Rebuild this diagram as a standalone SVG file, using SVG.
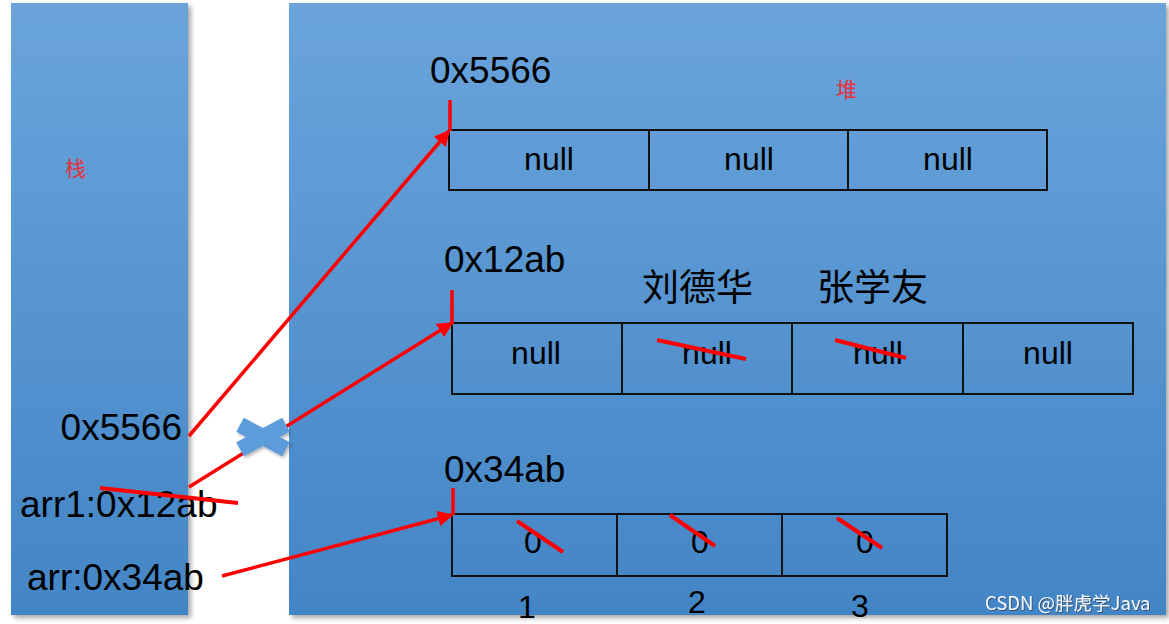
<svg xmlns="http://www.w3.org/2000/svg" width="1169" height="624" viewBox="0 0 1169 624">
  <defs>
    <linearGradient id="panelGrad" x1="0" y1="0" x2="0" y2="1">
      <stop offset="0" stop-color="#6aa4db"/>
      <stop offset="1" stop-color="#4385c6"/>
    </linearGradient>
    <filter id="shadow" x="-10%" y="-5%" width="120%" height="110%">
      <feDropShadow dx="3" dy="3" stdDeviation="2.5" flood-color="#000" flood-opacity="0.35"/>
    </filter>
    <filter id="xshadow" x="-30%" y="-30%" width="160%" height="160%">
      <feDropShadow dx="1.5" dy="2" stdDeviation="1.5" flood-color="#000" flood-opacity="0.3"/>
    </filter>
    <filter id="wm" x="-5%" y="-20%" width="110%" height="140%">
      <feDropShadow dx="1" dy="1" stdDeviation="0.6" flood-color="#333" flood-opacity="0.6"/>
    </filter>
    <marker id="arrow" viewBox="0 0 10 10" refX="9" refY="5" markerWidth="4.5" markerHeight="4.5" orient="auto" markerUnits="strokeWidth">
      <path d="M0,0 L10,5 L0,10 z" fill="#ff0000"/>
    </marker>
  </defs>
  <style>
    .txt { font-family: "Liberation Sans", Arial, sans-serif; fill: #000; }
    .addr { font-size: 37px; }
    .cell { font-size: 32px; text-anchor: middle; }
    .cjk { font-family: "Noto Sans CJK SC", "Liberation Sans", sans-serif; font-size: 37px; font-weight: 400; fill: #000; }
    .tag { font-family: "Noto Sans CJK SC", sans-serif; font-size: 21px; fill: #e8303a; }
    .box { fill: none; stroke: #111; stroke-width: 2; }
    .red { stroke: #ff0000; stroke-width: 3.5; fill: none; stroke-linecap: butt; }
    .strike { stroke: #ff0000; stroke-width: 4; fill: none; }
  </style>
  <rect width="1169" height="624" fill="#ffffff"/>

  <g id="stack">
    <rect x="11" y="3" width="177" height="612" fill="url(#panelGrad)" filter="url(#shadow)"/>
    <text class="tag" x="65" y="176">栈</text>
    <text class="txt addr" x="182" y="440" text-anchor="end">0x5566</text>
    <text class="txt addr" x="20" y="517">arr1:0x12ab</text>
    <line class="strike" x1="100" y1="488" x2="238" y2="503"/>
    <text class="txt addr" x="27" y="590">arr:0x34ab</text>
  </g>

  <g id="heap">
    <rect x="289" y="3" width="877" height="612" fill="url(#panelGrad)" filter="url(#shadow)"/>
    <text class="tag" x="836" y="97">堆</text>
  </g>

  <g id="array-0x5566">
    <text class="txt addr" x="430" y="83">0x5566</text>
    <rect class="box" x="449" y="130" width="598" height="60"/>
    <line class="box" x1="649" y1="130" x2="649" y2="190"/>
    <line class="box" x1="848" y1="130" x2="848" y2="190"/>
    <text class="txt cell" x="549" y="170">null</text>
    <text class="txt cell" x="749" y="170">null</text>
    <text class="txt cell" x="948" y="170">null</text>
  </g>

  <g id="array-0x12ab">
    <text class="txt addr" x="444" y="272">0x12ab</text>
    <text class="cjk" x="642" y="301">刘德华</text>
    <text class="cjk" x="817" y="301">张学友</text>
    <rect class="box" x="452" y="323" width="681" height="71"/>
    <line class="box" x1="622" y1="323" x2="622" y2="394"/>
    <line class="box" x1="792" y1="323" x2="792" y2="394"/>
    <line class="box" x1="963" y1="323" x2="963" y2="394"/>
    <text class="txt cell" x="536" y="364">null</text>
    <text class="txt cell" x="707" y="364">null</text>
    <text class="txt cell" x="878" y="364">null</text>
    <text class="txt cell" x="1048" y="364">null</text>
    <line class="strike" x1="657" y1="340" x2="746" y2="359"/>
    <line class="strike" x1="835" y1="340" x2="906" y2="358"/>
  </g>

  <g id="array-0x34ab">
    <text class="txt addr" x="444" y="482">0x34ab</text>
    <rect class="box" x="452" y="514" width="495" height="62"/>
    <line class="box" x1="617" y1="514" x2="617" y2="576"/>
    <line class="box" x1="782" y1="514" x2="782" y2="576"/>
    <text class="txt cell" x="533" y="553">0</text>
    <text class="txt cell" x="700" y="553">0</text>
    <text class="txt cell" x="865" y="553">0</text>
    <line class="strike" x1="517" y1="521" x2="563" y2="552"/>
    <line class="strike" x1="670" y1="515" x2="715" y2="546"/>
    <line class="strike" x1="837" y1="518" x2="882" y2="548"/>
    <text class="txt cell" x="527" y="618">1</text>
    <text class="txt cell" x="697" y="613">2</text>
    <text class="txt cell" x="860" y="617">3</text>
  </g>

  <g id="connectors">
    <line class="red" x1="450" y1="100" x2="450" y2="131"/>
    <line class="red" x1="452" y1="290" x2="452" y2="324"/>
    <line class="red" x1="453" y1="488" x2="453" y2="515"/>
    <line class="red" x1="189" y1="436" x2="449" y2="131" marker-end="url(#arrow)"/>
    <line class="red" x1="189" y1="487" x2="452" y2="323" marker-end="url(#arrow)"/>
    <line class="red" x1="222" y1="576" x2="452" y2="515" marker-end="url(#arrow)"/>
  </g>

  <g id="cross" filter="url(#xshadow)">
    <g transform="translate(263,437)">
      <rect x="-26" y="-8" width="52" height="16" fill="#5b9cdb" transform="rotate(28)"/>
      <rect x="-26" y="-8" width="52" height="16" fill="#5b9cdb" transform="rotate(-28)"/>
    </g>
  </g>

  <text x="985" y="610" filter="url(#wm)" font-family="'Noto Sans CJK SC', 'Noto Sans', sans-serif" font-size="18.5" fill="#f2f6fb">CSDN @胖虎学Java</text>
</svg>
